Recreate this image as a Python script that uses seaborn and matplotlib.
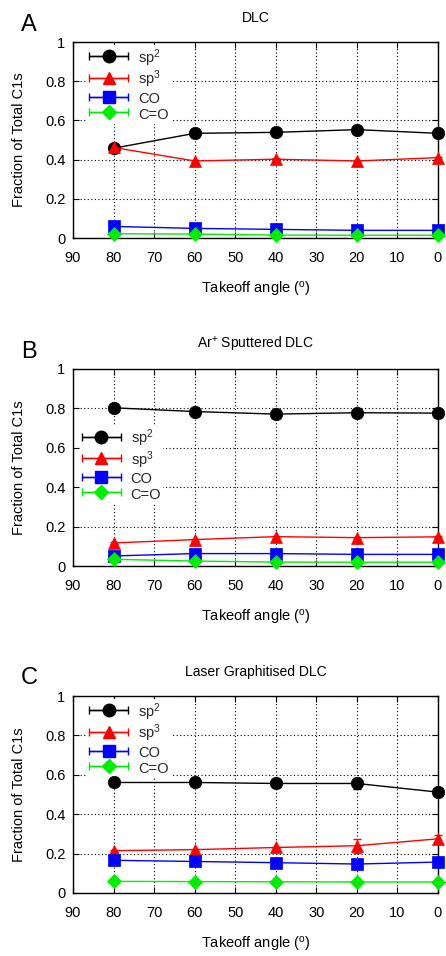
import numpy as np
import matplotlib
matplotlib.use("Agg")
import matplotlib.pyplot as plt
import seaborn as sns
from matplotlib.container import ErrorbarContainer
from matplotlib.legend_handler import HandlerErrorbar

# Takeoff angles (degrees)
angles = [80, 60, 40, 20, 0]

series_names = ["sp$^2$", "sp$^3$", "CO", "C=O"]
series_colors = ["#000000", "#ff0000", "#0000ff", "#00ee00"]
series_markers = ["o", "^", "s", "D"]
marker_sizes = [9, 8.5, 8.5, 7]

# Panel A: DLC
dlc_sp2 = [0.458, 0.534, 0.539, 0.553, 0.534]
dlc_sp3 = [0.462, 0.393, 0.402, 0.393, 0.410]
dlc_co = [0.059, 0.049, 0.044, 0.039, 0.039]
dlc_cdo = [0.022, 0.020, 0.015, 0.014, 0.014]
dlc_err = [0.005, 0.005, 0.005, 0.005, 0.005]

# Panel B: Ar+ sputtered DLC
ar_sp2 = [0.803, 0.784, 0.771, 0.778, 0.776]
ar_sp3 = [0.117, 0.134, 0.149, 0.144, 0.148]
ar_co = [0.051, 0.063, 0.063, 0.059, 0.059]
ar_cdo = [0.034, 0.025, 0.020, 0.019, 0.019]
ar_err = [0.005, 0.005, 0.005, 0.005, 0.005]

# Panel C: laser graphitised DLC
lg_sp2 = [0.561, 0.561, 0.556, 0.556, 0.512]
lg_sp3 = [0.215, 0.220, 0.231, 0.240, 0.275]
lg_co = [0.166, 0.160, 0.154, 0.147, 0.157]
lg_cdo = [0.059, 0.058, 0.057, 0.056, 0.056]
lg_sp2_err = [0.005, 0.005, 0.005, 0.030, 0.005]
lg_sp3_err = [0.005, 0.005, 0.005, 0.035, 0.020]
lg_small_err = [0.005, 0.005, 0.005, 0.005, 0.005]

panel_letters = ["A", "B", "C"]
panel_titles = ["DLC", "Ar$^{+}$ Sputtered DLC", "Laser Graphitised DLC"]
x_ticks = [90, 80, 70, 60, 50, 40, 30, 20, 10, 0]
y_ticks = [0, 0.2, 0.4, 0.6, 0.8, 1.0]
y_tick_labels = ["0", "0.2", "0.4", "0.6", "0.8", "1"]

panels = [
    ([dlc_sp2, dlc_sp3, dlc_co, dlc_cdo], [dlc_err, dlc_err, dlc_err, dlc_err]),
    ([ar_sp2, ar_sp3, ar_co, ar_cdo], [ar_err, ar_err, ar_err, ar_err]),
    ([lg_sp2, lg_sp3, lg_co, lg_cdo], [lg_sp2_err, lg_sp3_err, lg_small_err, lg_small_err]),
]

sns.set_theme(style="ticks")
plt.rcParams["font.family"] = ["Liberation Sans", "DejaVu Sans"]
plt.rcParams["mathtext.default"] = "regular"

W, H = 446, 956
fig = plt.figure(figsize=(W / 100, H / 100), dpi=100)

# axes boxes in pixels: (left, top, right, bottom)
boxes = [(73, 42, 438, 238), (73, 369, 438, 566), (73, 696, 438, 893)]
legend_anchor = [(0.038, 0.985), (0.018, 0.715), (0.038, 0.985)]
letter_y = [25, 352, 678]

for i, ((vals, errs), box) in enumerate(zip(panels, boxes)):
    l, t, r, b = box
    ax = fig.add_axes([l / W, 1 - b / H, (r - l) / W, (b - t) / H])
    ax.set_axisbelow(True)
    ax.grid(True, color="black", linestyle=(0, (1, 2.2)), linewidth=0.8)

    for name, y, e, c, m, ms in zip(series_names, vals, errs, series_colors,
                                    series_markers, marker_sizes):
        ax.errorbar(angles, y, yerr=e, fmt="none", ecolor=c, elinewidth=1,
                    capsize=3, capthick=1, clip_on=False, zorder=3)
        sns.lineplot(x=angles, y=y, ax=ax, color=c, marker=m, markersize=ms,
                     markeredgecolor=c, markeredgewidth=0.5, linewidth=1,
                     clip_on=False, legend=False, zorder=4)

    ax.set_xlim(90, 0)
    ax.set_ylim(0, 1)
    ax.set_xticks(x_ticks)
    ax.set_xticklabels([str(v) for v in x_ticks])
    ax.set_yticks(y_ticks)
    ax.set_yticklabels(y_tick_labels)
    ax.tick_params(direction="in", top=True, right=True, length=4, width=0.8,
                   labelsize=10.5, colors="black")
    ax.tick_params(axis="x", pad=9.5)
    ax.tick_params(axis="y", pad=5.5)
    for sp in ax.spines.values():
        sp.set_color("black")
        sp.set_linewidth(1.0)

    ax.set_xlabel("Takeoff angle ($^{o}$)", fontsize=10.5, color="black")
    ax.set_ylabel("Fraction of Total C1s", fontsize=10.5, color="black")
    ax.xaxis.set_label_coords(0.5, -0.215)
    ax.yaxis.set_label_coords(-0.13, 0.5)
    ax.set_title(panel_titles[i], fontsize=10, pad=14.5, color="black")

    # legend entries drawn gnuplot-style with horizontal error bars
    handles = []
    for name, c, m, ms in zip(series_names, series_colors, series_markers, marker_sizes):
        h = ax.errorbar([np.nan], [np.nan], xerr=[1], color=c, marker=m,
                        markersize=ms, markeredgecolor=c, linewidth=1,
                        elinewidth=1, capsize=3, label=name)
        handles.append(h)
    leg = ax.legend(handles=handles, loc="upper left",
                    bbox_to_anchor=legend_anchor[i], borderaxespad=0,
                    fontsize=10.5, frameon=True, fancybox=False,
                    facecolor="white", edgecolor="none", framealpha=1,
                    handlelength=2.7, handletextpad=0.65, handleheight=1.25,
                    labelspacing=0.0, borderpad=0.15,
                    handler_map={ErrorbarContainer: HandlerErrorbar(xerr_size=1.33)})
    # key box sits above the grid but beneath the data
    leg.set_zorder(1)

    fig.text(29 / W, 1 - letter_y[i] / H, panel_letters[i], fontsize=17,
             ha="center", va="center", color="black")

fig.savefig("out.png", dpi=100)
